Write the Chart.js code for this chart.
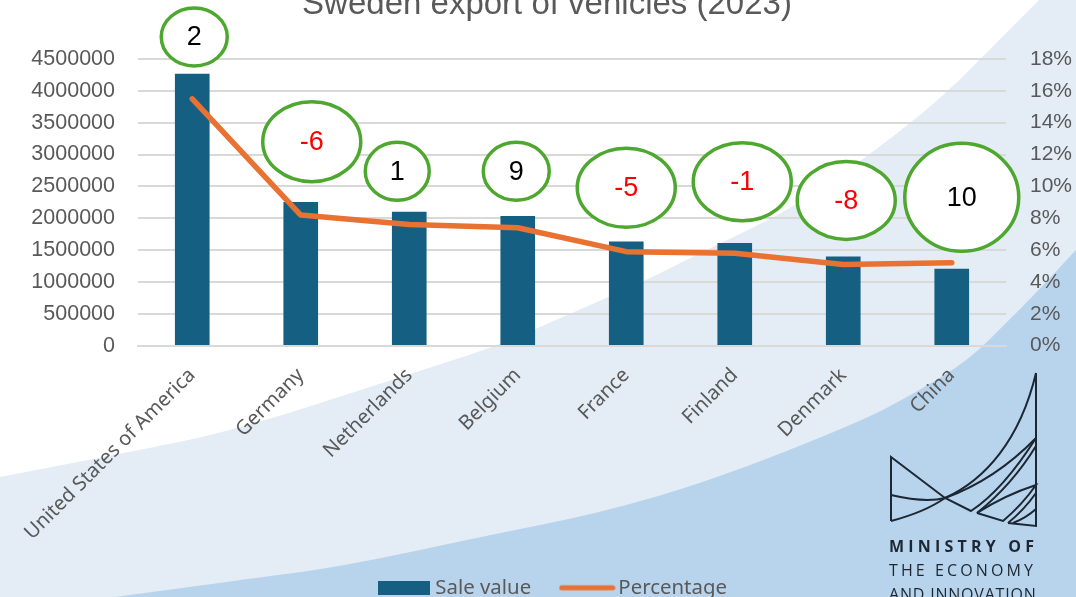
<!DOCTYPE html>
<html><head><meta charset="utf-8">
<style>html,body{margin:0;padding:0;background:#fff;overflow:hidden}canvas{display:block}</style>
<script src="https://cdn.jsdelivr.net/npm/chart.js@4"></script></head>
<body><canvas id="c" width="1076" height="597"></canvas>
<script>
const categories=["United States of America","Germany","Netherlands","Belgium","France","Finland","Denmark","China"];
const saleValue=[4264000,2250000,2095000,2030000,1630000,1605000,1395000,1200000];
const percentage=[15.5,8.2,7.6,7.4,5.9,5.8,5.1,5.2];
const rankChange=[2,-6,1,9,-5,-1,-8,10];
const calloutLevel=[19.38,12.81,10.95,10.95,9.91,10.29,9.12,9.31];
const calloutDx=[2,11,-12,-1.5,0,7.5,3,10];
const calloutRx=[33,49,32,33,49,49,49,57];
const calloutRy=[29,40,29,29,39.5,39,39,54];
const lightEdge=[[0,477],[130,452],[237,430],[413,373],[494,347],[533,330],[643,282],[700,253],[796,207],[876,150],[943,97],[1009,30],[1039,0]];
const darkEdge=[[115,597],[240,580],[340,567],[490,535],[600,513],[713,480],[860,422],[915,393],[969,360],[1009,320],[1036,293],[1076,250]];
function smooth(ctx,p){ctx.lineTo(p[0][0],p[0][1]);for(let i=1;i<p.length-1;i++){const mx=(p[i][0]+p[i+1][0])/2,my=(p[i][1]+p[i+1][1])/2;ctx.quadraticCurveTo(p[i][0],p[i][1],mx,my);}ctx.lineTo(p[p.length-1][0],p[p.length-1][1]);}
function swatch(w,h,draw){const c=document.createElement('canvas');c.width=w;c.height=h;draw(c.getContext('2d'));return c;}
const barSwatch=swatch(52,14,g=>{g.fillStyle='#156082';g.fillRect(0,0,52,14);});
const lineSwatch=swatch(57,14,g=>{g.strokeStyle='#e97132';g.lineWidth=5;g.lineCap='round';g.beginPath();g.moveTo(3,7);g.lineTo(54,7);g.stroke();});
const TITLE_UP=15;
const LEGEND_DOWN=11;
const decor={id:'decor',
 afterLayout(chart){
  const t=chart.titleBlock;t.top-=TITLE_UP;t.bottom-=TITLE_UP;t.left+=9;t.right+=9;
  const l=chart.legend;l.left+=17;l.right+=17;l.top+=LEGEND_DOWN;l.bottom+=LEGEND_DOWN;
  chart.scales.x.bottom=chart.height;
 },
 beforeDraw(chart){const ctx=chart.ctx;ctx.save();
  ctx.fillStyle='#fff';ctx.fillRect(0,0,1076,597);
  ctx.fillStyle='#e4ecf6';ctx.beginPath();ctx.moveTo(0,597);smooth(ctx,lightEdge);ctx.lineTo(1076,0);ctx.lineTo(1076,597);ctx.closePath();ctx.fill();
  ctx.fillStyle='#b8d4ec';ctx.beginPath();ctx.moveTo(115,597);smooth(ctx,darkEdge);ctx.lineTo(1076,597);ctx.closePath();ctx.fill();
  ctx.restore();},
 afterDraw(chart){const ctx=chart.ctx,xs=chart.scales.x,ys=chart.scales.yPct;ctx.save();
  rankChange.forEach((v,i)=>{const x=xs.getPixelForValue(i)+calloutDx[i],y=ys.getPixelForValue(calloutLevel[i]);
   ctx.beginPath();ctx.ellipse(x,y,calloutRx[i],calloutRy[i],0,0,Math.PI*2);ctx.fillStyle='#fff';ctx.fill();ctx.lineWidth=3.5;ctx.strokeStyle='#4ea72e';ctx.stroke();
   ctx.fillStyle=v<0?'#ff0000':'#000';ctx.font='27px "Liberation Sans"';ctx.textAlign='center';ctx.textBaseline='middle';ctx.fillText(String(v),x,y+1);});
  ctx.strokeStyle='#1c2733';ctx.lineWidth=2;ctx.lineJoin='miter';
  const S=(f)=>{ctx.beginPath();f();ctx.stroke();};
  S(()=>{ctx.moveTo(1036,373);ctx.lineTo(1036,526);ctx.lineTo(1008,523);});
  S(()=>{ctx.moveTo(891,521);ctx.lineTo(891,457);ctx.lineTo(945,498);ctx.lineTo(971,511);ctx.quadraticCurveTo(1003,490,1036,438);});
  S(()=>{ctx.moveTo(891,521);ctx.quadraticCurveTo(925,512,945,498);ctx.bezierCurveTo(985,480,1020,440,1036,373);});
  S(()=>{ctx.moveTo(891,495);ctx.quadraticCurveTo(925,503,945,498);ctx.quadraticCurveTo(995,480,1036,438);});
  S(()=>{ctx.moveTo(977,513);ctx.lineTo(1003,521);ctx.quadraticCurveTo(1022,505,1036,485);ctx.quadraticCurveTo(1005,495,977,513);});
  S(()=>{ctx.moveTo(977,513);ctx.quadraticCurveTo(1012,485,1036,446);});
  S(()=>{ctx.moveTo(1008,523);ctx.quadraticCurveTo(1024,510,1036,493);});
  S(()=>{ctx.moveTo(1013,523);ctx.quadraticCurveTo(1026,518,1036,509);});
  ctx.fillStyle='#1c2733';ctx.textAlign='left';ctx.textBaseline='alphabetic';
  ctx.font='bold 16px "Open Sans"';ctx.letterSpacing='4.2px';ctx.fillText('MINISTRY OF',889,552);
  ctx.font='500 16px "Open Sans"';ctx.letterSpacing='3.1px';ctx.fillText('THE ECONOMY',889,576);
  ctx.letterSpacing='0.8px';ctx.fillText('AND INNOVATION',889,600);
  ctx.restore();}
};
new Chart(document.getElementById('c'),{
 data:{labels:categories,datasets:[
  {type:'line',label:'Percentage',data:percentage,yAxisID:'yPct',borderColor:'#e97132',backgroundColor:'#e97132',borderWidth:5.5,pointRadius:0,tension:0,borderCapStyle:'round',borderJoinStyle:'round',order:1},
  {type:'bar',label:'Sale value',data:saleValue,yAxisID:'ySale',backgroundColor:'#156082',barThickness:34,order:2}]},
 options:{responsive:false,animation:false,
  layout:{padding:0},
  plugins:{tooltip:{enabled:false},
   title:{display:true,text:'Sweden export of vehicles (2023)',color:'#595959',font:{family:'"Liberation Sans"',size:33,weight:'normal'},padding:{top:0,bottom:19.4}},
   legend:{display:true,position:'bottom',labels:{usePointStyle:true,pointStyleWidth:42,boxHeight:14,padding:35,color:'#595959',font:{family:'"Noto Sans"',size:20.4},
    generateLabels(){return[
     {text:'Sale value',pointStyle:barSwatch,fontColor:'#595959',hidden:false,datasetIndex:1},
     {text:'Percentage',pointStyle:lineSwatch,fontColor:'#595959',hidden:false,datasetIndex:0}];}}}},
  scales:{
   x:{type:'category',grid:{display:false},border:{color:'#d9d9d9',width:2},
      ticks:{minRotation:45,maxRotation:45,autoSkip:false,color:'#595959',padding:10,font:{family:'"Noto Sans"',size:20}},
      afterFit(a){a.height=186;}},
   ySale:{type:'linear',position:'left',min:0,max:4500000,border:{display:false},grid:{color:'#d9d9d9',lineWidth:2,drawTicks:false},
      ticks:{stepSize:500000,padding:23,color:'#595959',font:{family:'"Liberation Sans"',size:21.5},callback:v=>String(v)},
      afterFit(a){a.width=138;}},
   yPct:{type:'linear',position:'right',min:0,max:18,border:{display:false},grid:{display:false,drawTicks:false},
      ticks:{stepSize:2,padding:24,color:'#595959',font:{family:'"Liberation Sans"',size:21},callback:v=>v+'%'},
      afterFit(a){a.width=70;}}
  }},
 plugins:[decor]
});
</script></body></html>
